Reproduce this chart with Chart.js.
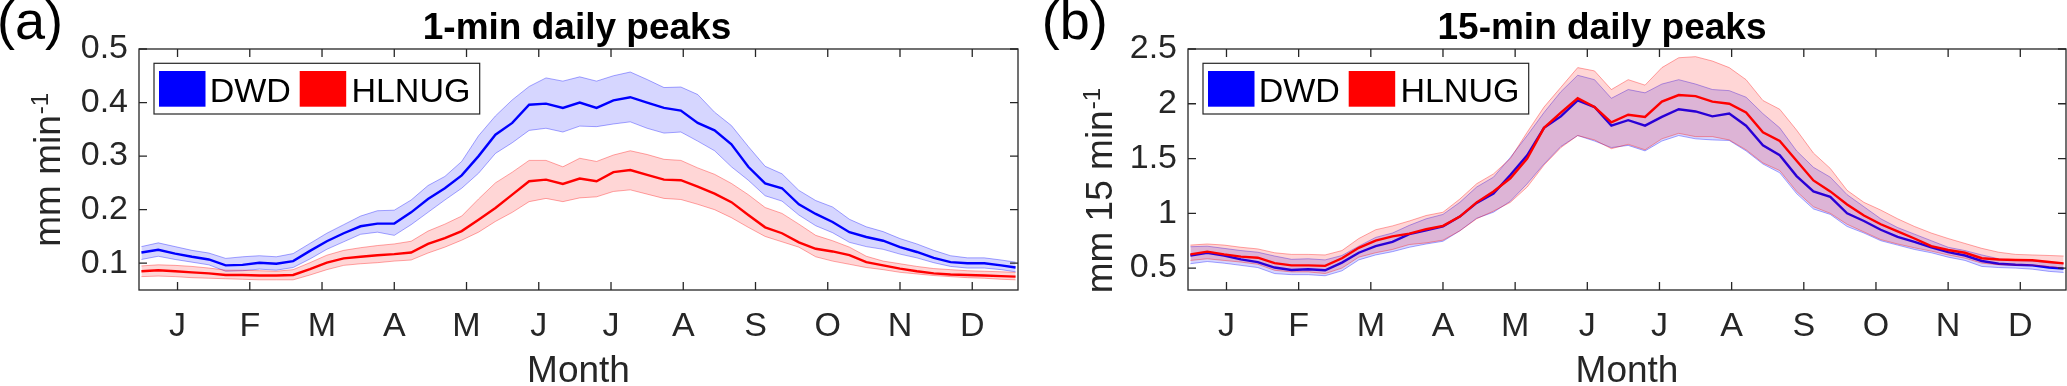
<!DOCTYPE html>
<html lang="en">
<head>
  <meta charset="UTF-8" />
  <title>Daily peaks DWD vs HLNUG</title>
  <script src="https://cdn.jsdelivr.net/npm/chart.js"></script>
  <style>
    body { margin: 0; width: 2067px; height: 386px; background: #fff; position: relative; overflow: hidden; }
    canvas { position: absolute; top: 0; }
    #chartA { left: 0; }
    #chartB { left: 1035px; }
  </style>
</head>
<body>
  <canvas id="chartA" width="1035" height="386"></canvas>
  <canvas id="chartB" width="1032" height="386"></canvas>
<script>
// day of year of every sample (weekly read-off)
const days = [1, 8, 15, 22, 29, 36, 43, 50, 57, 64, 71, 78, 85, 92, 99, 106, 113, 120, 127, 134,
  141, 148, 155, 162, 169, 176, 183, 190, 197, 204, 211, 218, 225, 232, 239, 246, 253, 260, 267, 274,
  281, 288, 295, 302, 309, 316, 323, 330, 337, 344, 351, 358, 364];
const monthTickDays = [16, 46, 76, 106, 136, 166, 196, 226, 256, 286, 316, 346];
const monthLabels = ['J', 'F', 'M', 'A', 'M', 'J', 'J', 'A', 'S', 'O', 'N', 'D'];
const seriesNames = ['DWD', 'HLNUG'];

// (a) 1-min daily peaks, mm min-1
const yTicksA = [0.1, 0.2, 0.3, 0.4, 0.5];
const dwd1Mean = [0.120, 0.125, 0.118, 0.112, 0.107, 0.096, 0.097, 0.101, 0.099, 0.104,
  0.123, 0.141, 0.156, 0.169, 0.174, 0.174, 0.195, 0.220, 0.240, 0.264,
  0.300, 0.340, 0.362, 0.396, 0.398, 0.390, 0.400, 0.390, 0.404, 0.410,
  0.400, 0.390, 0.385, 0.362, 0.348, 0.322, 0.280, 0.249, 0.240, 0.210,
  0.192, 0.177, 0.158, 0.149, 0.142, 0.130, 0.121, 0.110, 0.102, 0.100,
  0.100, 0.096, 0.092];
const dwd1High = [0.131, 0.138, 0.131, 0.124, 0.119, 0.109, 0.112, 0.114, 0.112, 0.118,
  0.137, 0.156, 0.172, 0.188, 0.198, 0.199, 0.218, 0.245, 0.262, 0.290,
  0.338, 0.375, 0.405, 0.430, 0.446, 0.440, 0.448, 0.440, 0.450, 0.457,
  0.443, 0.428, 0.429, 0.415, 0.382, 0.357, 0.318, 0.281, 0.267, 0.236,
  0.217, 0.205, 0.182, 0.168, 0.159, 0.146, 0.136, 0.124, 0.114, 0.110,
  0.110, 0.106, 0.102];
const dwd1Low = [0.107, 0.113, 0.107, 0.102, 0.097, 0.085, 0.086, 0.089, 0.087, 0.092,
  0.108, 0.126, 0.140, 0.154, 0.158, 0.152, 0.172, 0.195, 0.218, 0.240,
  0.268, 0.305, 0.325, 0.348, 0.352, 0.345, 0.356, 0.355, 0.360, 0.364,
  0.352, 0.343, 0.345, 0.328, 0.310, 0.280, 0.255, 0.226, 0.216, 0.190,
  0.170, 0.157, 0.139, 0.131, 0.126, 0.117, 0.110, 0.101, 0.094, 0.091,
  0.091, 0.088, 0.084];
const hln1Mean = [0.085, 0.087, 0.085, 0.083, 0.081, 0.078, 0.078, 0.077, 0.077, 0.078,
  0.089, 0.101, 0.109, 0.112, 0.115, 0.117, 0.120, 0.136, 0.147, 0.160,
  0.181, 0.203, 0.228, 0.253, 0.256, 0.248, 0.258, 0.253, 0.270, 0.274,
  0.265, 0.256, 0.255, 0.243, 0.230, 0.214, 0.190, 0.167, 0.156, 0.139,
  0.127, 0.122, 0.115, 0.102, 0.096, 0.090, 0.085, 0.081, 0.079, 0.078,
  0.077, 0.076, 0.075];
const hln1High = [0.095, 0.097, 0.096, 0.094, 0.091, 0.087, 0.087, 0.086, 0.085, 0.088,
  0.101, 0.115, 0.124, 0.129, 0.133, 0.136, 0.141, 0.160, 0.173, 0.188,
  0.220, 0.250, 0.270, 0.292, 0.292, 0.280, 0.296, 0.290, 0.302, 0.310,
  0.303, 0.294, 0.292, 0.278, 0.266, 0.249, 0.228, 0.204, 0.193, 0.173,
  0.152, 0.142, 0.130, 0.113, 0.104, 0.099, 0.094, 0.090, 0.088, 0.086,
  0.085, 0.084, 0.083];
const hln1Low = [0.075, 0.076, 0.075, 0.073, 0.072, 0.071, 0.070, 0.069, 0.069, 0.069,
  0.078, 0.088, 0.096, 0.099, 0.101, 0.104, 0.106, 0.119, 0.130, 0.143,
  0.158, 0.178, 0.195, 0.215, 0.221, 0.215, 0.222, 0.224, 0.234, 0.237,
  0.229, 0.221, 0.219, 0.210, 0.200, 0.185, 0.167, 0.150, 0.140, 0.130,
  0.112, 0.104, 0.098, 0.092, 0.088, 0.083, 0.080, 0.077, 0.075, 0.073,
  0.072, 0.070, 0.069];

// (b) 15-min daily peaks, mm 15 min-1
const yTicksB = [0.5, 1, 1.5, 2, 2.5];
const dwd15Mean = [0.615, 0.640, 0.615, 0.580, 0.555, 0.505, 0.483, 0.490, 0.480, 0.550,
  0.640, 0.700, 0.740, 0.810, 0.845, 0.880, 0.970, 1.095, 1.180, 1.350,
  1.530, 1.780, 1.885, 2.030, 1.970, 1.800, 1.850, 1.800, 1.880, 1.950,
  1.930, 1.885, 1.910, 1.800, 1.620, 1.530, 1.340, 1.200, 1.150, 1.000,
  0.930, 0.850, 0.785, 0.740, 0.690, 0.645, 0.615, 0.565, 0.540, 0.530,
  0.525, 0.505, 0.495];
const dwd15High = [0.695, 0.700, 0.680, 0.660, 0.645, 0.610, 0.580, 0.585, 0.575, 0.615,
  0.700, 0.780, 0.820, 0.890, 0.950, 0.990, 1.100, 1.240, 1.330, 1.510,
  1.710, 1.920, 2.110, 2.260, 2.220, 2.050, 2.130, 2.100, 2.180, 2.220,
  2.180, 2.130, 2.120, 2.060, 1.910, 1.780, 1.570, 1.420, 1.330, 1.170,
  1.060, 0.950, 0.870, 0.810, 0.750, 0.690, 0.660, 0.620, 0.585, 0.570,
  0.565, 0.550, 0.540];
const dwd15Low = [0.540, 0.560, 0.545, 0.525, 0.505, 0.450, 0.440, 0.440, 0.430, 0.475,
  0.575, 0.620, 0.650, 0.690, 0.720, 0.745, 0.840, 0.955, 1.010, 1.110,
  1.270, 1.450, 1.610, 1.710, 1.660, 1.600, 1.620, 1.570, 1.660, 1.710,
  1.680, 1.670, 1.665, 1.570, 1.450, 1.370, 1.180, 1.040, 0.990, 0.880,
  0.820, 0.750, 0.710, 0.670, 0.640, 0.600, 0.570, 0.515, 0.505, 0.500,
  0.490, 0.470, 0.460];
const hln15Mean = [0.625, 0.650, 0.625, 0.605, 0.595, 0.545, 0.525, 0.525, 0.520, 0.590,
  0.685, 0.750, 0.790, 0.815, 0.855, 0.885, 0.970, 1.100, 1.200, 1.320,
  1.500, 1.780, 1.920, 2.050, 1.970, 1.830, 1.900, 1.880, 2.020, 2.080,
  2.070, 2.020, 2.000, 1.920, 1.740, 1.660, 1.480, 1.300, 1.200, 1.080,
  0.980, 0.900, 0.835, 0.770, 0.700, 0.665, 0.640, 0.590, 0.578, 0.574,
  0.572, 0.555, 0.543];
const hln15High = [0.710, 0.720, 0.710, 0.690, 0.675, 0.640, 0.625, 0.625, 0.620, 0.660,
  0.770, 0.850, 0.885, 0.930, 0.980, 1.010, 1.130, 1.270, 1.360, 1.500,
  1.740, 1.970, 2.150, 2.330, 2.300, 2.130, 2.220, 2.170, 2.330, 2.420,
  2.430, 2.390, 2.330, 2.220, 2.030, 1.950, 1.760, 1.550, 1.410, 1.210,
  1.100, 1.030, 0.950, 0.880, 0.820, 0.770, 0.725, 0.680, 0.645, 0.625,
  0.620, 0.615, 0.610];
const hln15Low = [0.570, 0.585, 0.570, 0.555, 0.535, 0.480, 0.465, 0.465, 0.450, 0.500,
  0.600, 0.640, 0.670, 0.715, 0.730, 0.755, 0.840, 0.950, 1.020, 1.100,
  1.240, 1.440, 1.600, 1.710, 1.670, 1.590, 1.630, 1.580, 1.680, 1.730,
  1.700, 1.700, 1.670, 1.580, 1.460, 1.390, 1.200, 1.060, 1.000, 0.900,
  0.830, 0.760, 0.720, 0.685, 0.655, 0.620, 0.590, 0.545, 0.530, 0.527,
  0.525, 0.515, 0.500];

const FONT = "'Liberation Sans', Arial, Helvetica, sans-serif";
const AXIS_COLOR = '#262626';
const BLUE = '0,0,255';
const RED = '255,0,0';

// low edge, high edge (filled down to low), then the mean line on top
function bandSets(name, mean, low, high, rgb, baseOrder) {
  const pts = arr => days.map((d, i) => ({ x: d, y: arr[i] }));
  const edge = `rgba(${rgb},0.35)`;
  return [
    { label: name + ' low', data: pts(low), borderColor: edge, borderWidth: 1, fill: false, order: baseOrder + 2 },
    { label: name + ' high', data: pts(high), borderColor: edge, borderWidth: 1,
      backgroundColor: `rgba(${rgb},0.16)`, fill: '-1', order: baseOrder + 1 },
    { label: name, data: pts(mean), borderColor: `rgb(${rgb})`, borderWidth: 2.4, fill: false, order: baseOrder }
  ];
}

// frame with inward ticks, in-axes legend, titles
const panelDecor = {
  id: 'panelDecor',
  afterDatasetsDraw(chart, args, o) {
    const { ctx, chartArea: a } = chart;
    const xs = chart.scales.x, ys = chart.scales.y;
    ctx.save();
    ctx.strokeStyle = AXIS_COLOR;
    ctx.lineWidth = 1.3;
    ctx.strokeRect(a.left, a.top, a.width, a.height);
    const tl = 8;
    ctx.beginPath();
    xs.ticks.forEach(t => {
      const x = xs.getPixelForValue(t.value);
      ctx.moveTo(x, a.bottom); ctx.lineTo(x, a.bottom - tl);
      ctx.moveTo(x, a.top); ctx.lineTo(x, a.top + tl);
    });
    ys.ticks.forEach(t => {
      const y = ys.getPixelForValue(t.value);
      ctx.moveTo(a.left, y); ctx.lineTo(a.left + tl, y);
      ctx.moveTo(a.right, y); ctx.lineTo(a.right - tl, y);
    });
    ctx.stroke();

    // legend box
    const bx = a.left + 15, by = 63.3;
    ctx.fillStyle = '#fff';
    ctx.fillRect(bx, by, 325.7, 50.7);
    ctx.lineWidth = 1.2;
    ctx.strokeRect(bx, by, 325.7, 50.7);
    const swatchX = [5, 145.7];
    const textX = [55.7, 197.4];
    [BLUE, RED].forEach((rgb, i) => {
      ctx.fillStyle = `rgb(${rgb})`;
      ctx.fillRect(bx + swatchX[i], by + 7.7, 46.5, 35.7);
      ctx.fillStyle = '#000';
      ctx.font = `34px ${FONT}`;
      ctx.textAlign = 'left';
      ctx.textBaseline = 'alphabetic';
      ctx.fillText(seriesNames[i], bx + textX[i], by + 38.4);
    });
    ctx.restore();
  },
  afterDraw(chart, args, o) {
    const ctx = chart.ctx;
    ctx.save();
    ctx.fillStyle = '#000';
    ctx.textBaseline = 'alphabetic';
    ctx.textAlign = 'left';
    ctx.font = `54px ${FONT}`;
    ctx.fillText(o.letter, o.letterX, 39);

    ctx.textAlign = 'center';
    ctx.font = `bold 37px ${FONT}`;
    ctx.fillText(o.title, o.titleX, 39);

    // rotated y label with superscript
    ctx.fillStyle = AXIS_COLOR;
    ctx.translate(o.yTitleX, o.yTitleY);
    ctx.rotate(-Math.PI / 2);
    ctx.textAlign = 'left';
    ctx.font = `37px ${FONT}`;
    ctx.fillText(o.yTitle, 0, 0);
    const w = ctx.measureText(o.yTitle).width;
    ctx.font = `24px ${FONT}`;
    ctx.fillText(o.yTitleSup, w + 1, -12);
    ctx.restore();
  }
};

function makeChart(id, cfg) {
  return new Chart(document.getElementById(id), {
    type: 'line',
    data: {
      datasets: [
        ...bandSets(seriesNames[0], cfg.dwdMean, cfg.dwdLow, cfg.dwdHigh, BLUE, 4),
        ...bandSets(seriesNames[1], cfg.hlnMean, cfg.hlnLow, cfg.hlnHigh, RED, 1)
      ]
    },
    plugins: [panelDecor],
    options: {
      responsive: false,
      animation: false,
      devicePixelRatio: 1,
      layout: { padding: { left: 0, right: cfg.padRight, top: 49, bottom: 0 } },
      elements: { point: { radius: 0 }, line: { tension: 0 } },
      plugins: {
        legend: { display: false },
        tooltip: { enabled: false },
        panelDecor: cfg.decor
      },
      scales: {
        x: {
          type: 'linear', min: 0, max: 365,
          grid: { display: false, drawTicks: false },
          border: { display: false },
          afterBuildTicks: s => { s.ticks = monthTickDays.map(v => ({ value: v })); },
          afterFit: s => { s.height = 96; },
          ticks: {
            autoSkip: false, maxRotation: 0, padding: 16, color: AXIS_COLOR,
            font: { family: FONT, size: 34 },
            callback: (v, i) => monthLabels[i]
          },
          title: {
            display: true, text: 'Month', color: AXIS_COLOR,
            font: { family: FONT, size: 37, lineHeight: 1 },
            padding: { top: 0, bottom: -4 }
          }
        },
        y: {
          type: 'linear', min: cfg.yMin, max: cfg.yMax,
          grid: { display: false, drawTicks: false },
          border: { display: false },
          afterBuildTicks: s => { s.ticks = cfg.yTicks.map(v => ({ value: v })); },
          afterFit: s => { s.width = cfg.yWidth; },
          ticks: {
            padding: 11, color: AXIS_COLOR,
            font: { family: FONT, size: 34 },
            callback: v => String(v)
          }
        }
      }
    }
  });
}

makeChart('chartA', {
  dwdMean: dwd1Mean, dwdLow: dwd1Low, dwdHigh: dwd1High,
  hlnMean: hln1Mean, hlnLow: hln1Low, hlnHigh: hln1High,
  yMin: 0.05, yMax: 0.5, yTicks: yTicksA, yWidth: 139, padRight: 17,
  decor: { letter: '(a)', letterX: -3, title: '1-min daily peaks', titleX: 577,
           yTitle: 'mm min', yTitleSup: '-1', yTitleX: 60, yTitleY: 246.7 }
});

makeChart('chartB', {
  dwdMean: dwd15Mean, dwdLow: dwd15Low, dwdHigh: dwd15High,
  hlnMean: hln15Mean, hlnLow: hln15Low, hlnHigh: hln15High,
  yMin: 0.3, yMax: 2.5, yTicks: yTicksB, yWidth: 153, padRight: 1,
  decor: { letter: '(b)', letterX: 6.7, title: '15-min daily peaks', titleX: 567,
           yTitle: 'mm 15 min', yTitleSup: '-1', yTitleX: 76.7, yTitleY: 293.3 }
});
</script>
</body>
</html>
